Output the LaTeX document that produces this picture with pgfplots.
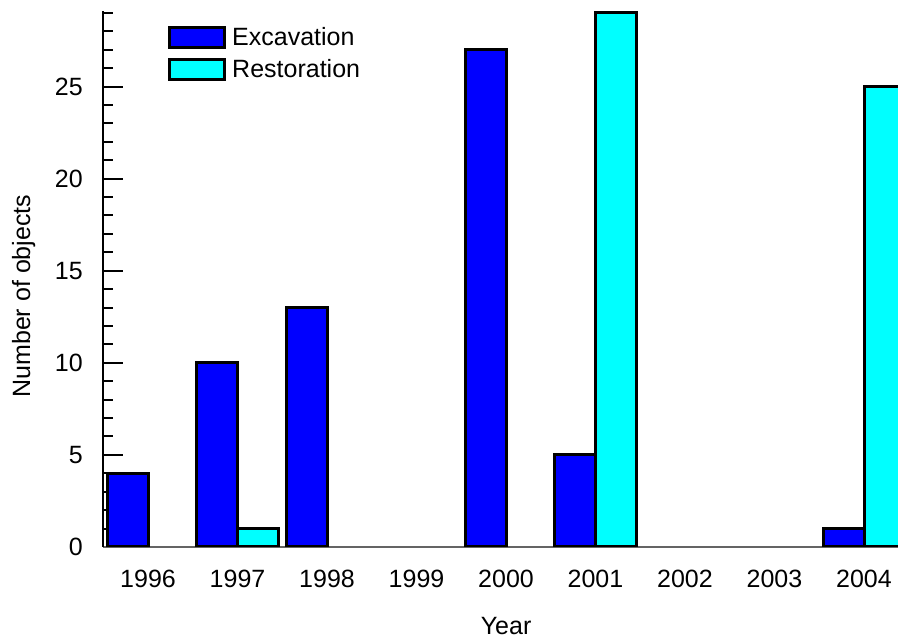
\documentclass[border=0pt]{standalone}
\usepackage{pgfplots}
\pgfplotsset{compat=1.18}
\usepackage{fontspec}
\setmainfont{Liberation Sans}
\newcommand\cf{\fontsize{25}{30}\selectfont}
\definecolor{baseline}{RGB}{100,100,100}
\definecolor{excblue}{RGB}{0,0,255}
\definecolor{rescyan}{RGB}{0,255,255}
\pgfplotsset{boxlegend/.style={legend image code/.code={\draw[##1] (0pt,-10pt) rectangle (55pt,10pt);}}}
\begin{document}
\begin{tikzpicture}[x=1pt,y=1pt]
\path[use as bounding box] (0,0) rectangle (898,639);
\begin{axis}[
  at={(103pt,92pt)}, anchor=south west,
  scale only axis, width=795pt, height=536pt,
  xmin=-0.503, xmax=8.38, ymin=0, ymax=29.1,
  ybar=0pt, bar width=41pt,
  axis y line*=left, axis x line*=bottom,
  y axis line style={line width=2pt,-},
  x axis line style={draw=baseline, line width=1.5pt,-},
  xtick={0,1,2,3,4,5,6,7,8},
  xticklabels={1996,1997,1998,1999,2000,2001,2002,2003,2004},
  ytick={0,5,10,15,20,25},
  minor ytick={0,1,...,29},
  tick align=inside,
  major tick length=20pt, minor tick length=10pt,
  xtick style={draw=none},
  ytick style={line width=2pt,black},
  /pgf/number format/assume math mode=true,
  yticklabel style={font=\cf, inner sep=0pt, xshift=-20pt},
  xticklabel style={font=\cf, inner sep=0pt, yshift=-23pt},
  xlabel={Year},
  xlabel style={font=\cf, inner sep=0pt, at={(axis description cs:0.507,-0.163)}, anchor=base},
  ylabel={Number of objects},
  ylabel style={font=\cf, at={(axis description cs:-0.0918,0.468)}, anchor=base},
  legend style={at={(axis description cs:0.0818,0.973)}, anchor=north west,
    draw=none, fill=none, inner sep=0pt, column sep=6pt, row sep=9.5pt,
    font=\cf, nodes={inner sep=0pt}},
  legend cell align=left,
]
\addplot[draw=black, fill=excblue, line width=3pt, boxlegend]
  coordinates {(0,4) (1,10) (2,13) (4,27) (5,5) (8,1)};
\addplot[draw=black, fill=rescyan, line width=3pt, boxlegend]
  coordinates {(1,1) (5,29) (8,25)};
\legend{Excavation, Restoration}
\end{axis}
\end{tikzpicture}
\end{document}
